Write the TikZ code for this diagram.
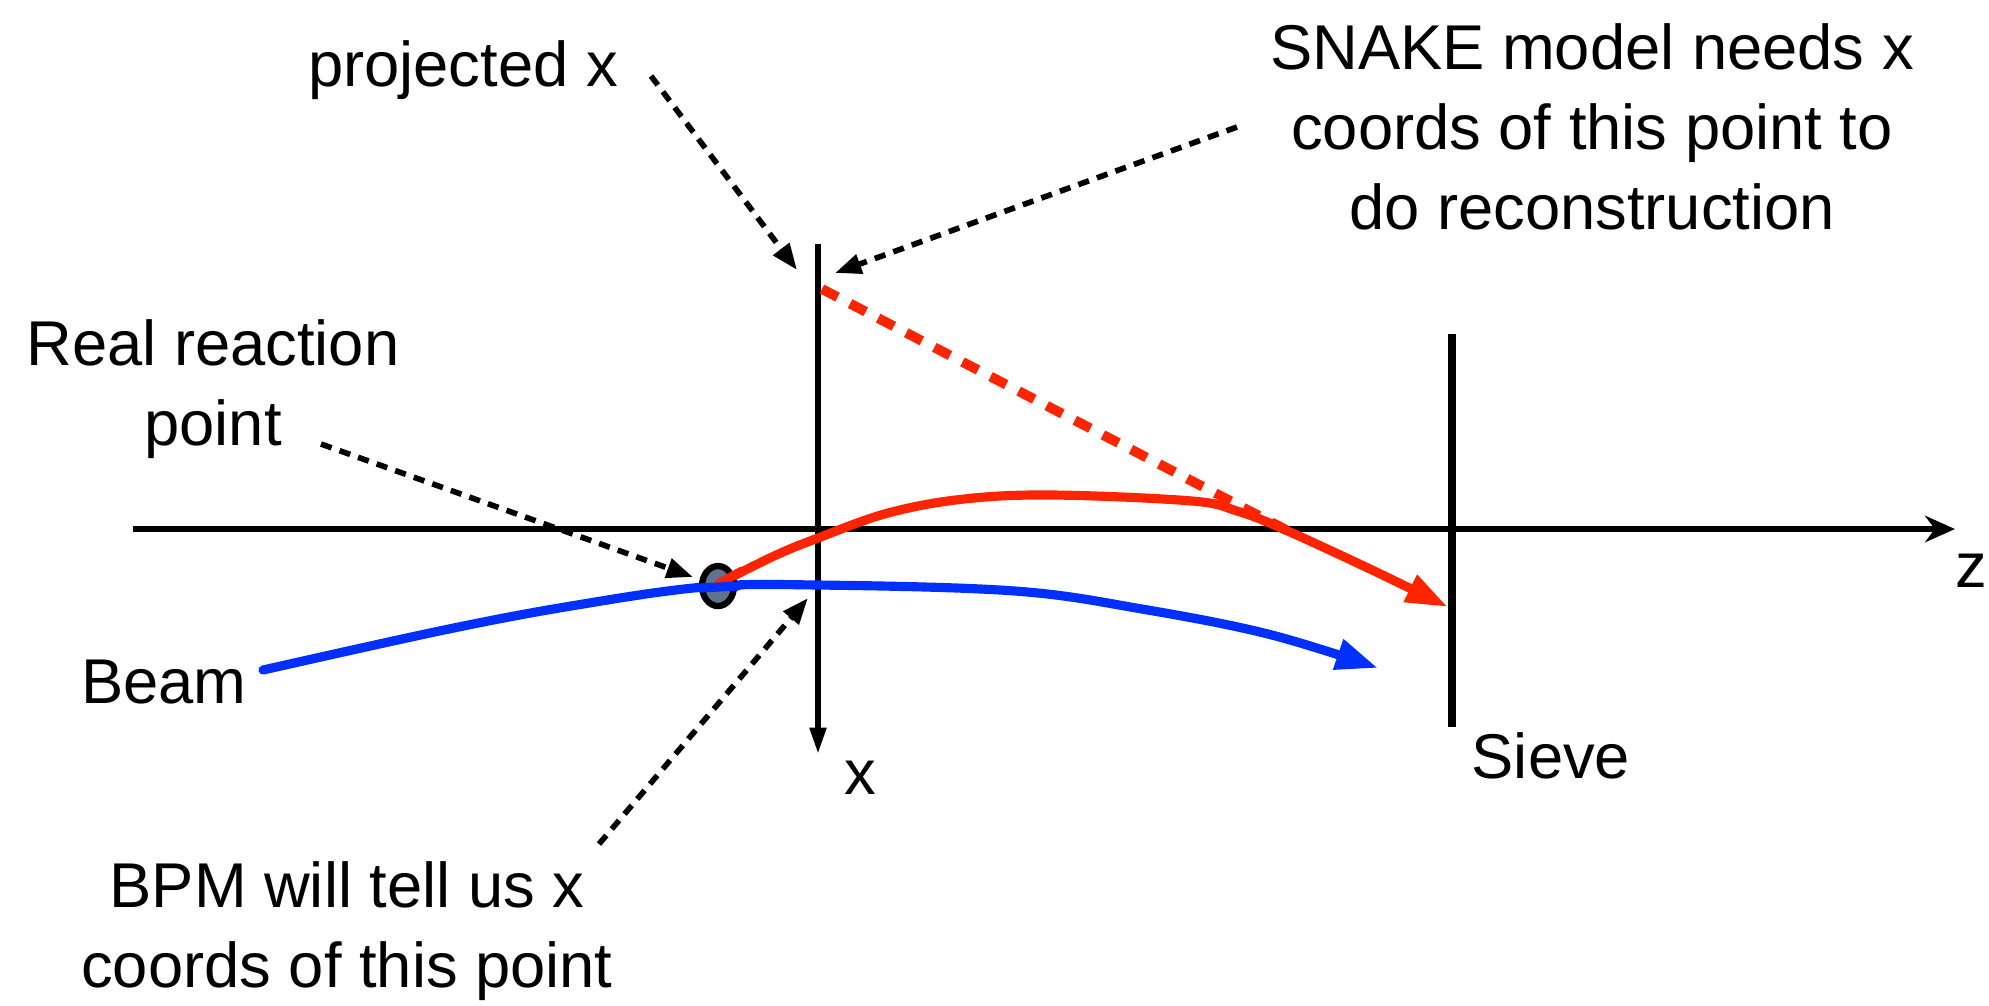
\documentclass[tikz,border=0pt]{standalone}
\usepackage{fontspec}
\setmainfont{Liberation Sans}
\usetikzlibrary{arrows.meta,shapes.geometric}
\definecolor{myred}{RGB}{255,36,0}
\definecolor{myblue}{RGB}{0,48,255}
\definecolor{ptfill}{RGB}{95,115,145}
\begin{document}
\begin{tikzpicture}[x=0.01cm,y=-0.01cm,
  lbl/.style={font=\fontsize{18}{22.8}\selectfont, align=center, inner sep=0pt},
  axisline/.style={line width=1.6pt},
  sieveline/.style={line width=2.2pt},
  pointer/.style={line width=1.6pt, dash pattern=on 3.2pt off 2.4pt, -{Triangle[length=7.5pt,width=5.5pt]}},
  track/.style={line width=2.6pt, line cap=round}]
\useasboundingbox (0,0) rectangle (1989,1005);

% coordinates
\coordinate (zstart) at (133,529);
\coordinate (zend) at (1955,529);
\coordinate (xtop) at (818,244);
\coordinate (xend) at (818,754);
\coordinate (stop) at (1452,334);
\coordinate (sbot) at (1452,727);

% axes
\draw[axisline, -{Stealth[length=8.5pt,width=7.5pt]}] (zstart) -- (zend);
\draw[axisline, -{Triangle[length=7.5pt,width=4.5pt]}] (xtop) -- (xend);
\draw[sieveline] (stop) -- (sbot);

% labels
\node[lbl, anchor=east] (zl) at (1988,571) {z};
\node[lbl] (xl) at (860,778) {x};
\node[lbl, anchor=west] (sievel) at (1471,756) {Sieve};
\node[lbl] (projl) at (463,70) {projected x};
\node[lbl] (snakel) at (1592,127) {SNAKE model needs x\\coords of this point to\\do reconstruction};
\node[lbl] (reall) at (213,389) {Real reaction\\point};
\node[lbl] (beaml) at (164,682) {Beam};
\node[lbl] (bpml) at (347,931) {BPM will tell us x\\coords of this point};

% red dashed projection
\coordinate (pstart) at (822,289);
\coordinate (pend) at (1292,533);
\draw[myred, line width=2.8pt, dash pattern=on 5pt off 4pt] (pstart) -- (pend);

% blue beam
\draw[track, myblue, -{Triangle[length=12pt,width=8.5pt]}] plot[smooth, tension=0.6] coordinates {(263,670) (444,630) (571,606) (704,587) (818,585) (1015,591) (1142,609) (1268,634) (1378,668)};

% red track
\draw[track, myred, -{Triangle[length=12pt,width=8pt]}] plot[smooth, tension=0.6] coordinates {(718,584) (774,556) (818,538) (888,513) (964,499) (1053,495) (1192,501) (1237,511) (1281,528) (1370,569) (1448,607)};

% reaction point
\node[draw=black, line width=1.8pt, fill=ptfill, ellipse, minimum width=0.32cm, minimum height=0.40cm, inner sep=0pt] (rp) at (718,586) {};
\draw[track, myred] (718,584) -- (742,571);
\draw[track, myblue] (700,588) -- (738,586);

% pointer arrows
\coordinate (p1s) at (651,76);
\coordinate (p1e) at (797,270);
\draw[pointer] (p1s) -- (p1e);
\coordinate (p2s) at (1237,127);
\coordinate (p2e) at (835,273);
\draw[pointer] (p2s) -- (p2e);
\coordinate (p3s) at (321,444);
\coordinate (p3e) at (693,577);
\draw[pointer] (p3s) -- (p3e);
\coordinate (p4s) at (599,844);
\coordinate (p4e) at (808,598);
\draw[pointer] (p4s) -- (p4e);
\end{tikzpicture}
\end{document}
